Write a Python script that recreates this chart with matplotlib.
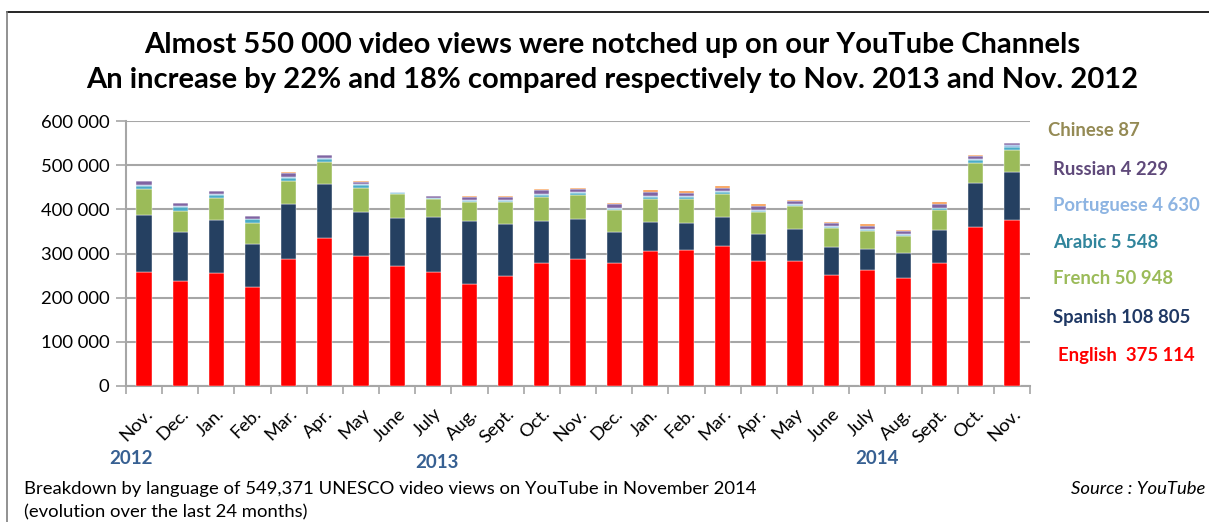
import matplotlib
matplotlib.use("Agg")
import matplotlib.pyplot as plt
import numpy as np
from matplotlib.lines import Line2D

plt.rcParams["font.family"] = ["Lato", "DejaVu Sans"]

months = ["Nov.", "Dec.", "Jan.", "Feb.", "Mar.", "Apr.", "May", "June", "July", "Aug.",
          "Sept.", "Oct.", "Nov.", "Dec.", "Jan.", "Feb.", "Mar.", "Apr.", "May", "June",
          "July", "Aug.", "Sept.", "Oct.", "Nov."]
years = ["2012", "2013", "2014"]

english = [259000, 237000, 256000, 225000, 288000, 336000, 295000, 271000, 258000, 232000,
           250000, 278000, 287000, 278000, 305000, 309000, 317000, 282000, 282000, 252000,
           262000, 244000, 278000, 361000, 375114]
spanish = [129000, 111000, 120000, 96000, 123000, 122000, 99000, 110000, 124000, 141000,
           117000, 96000, 91000, 71000, 67000, 61000, 65000, 63000, 74000, 62000,
           49000, 57000, 76000, 99000, 108805]
french = [57000, 49000, 49000, 48000, 53000, 50000, 55000, 53000, 42000, 43000,
          49000, 54000, 55000, 49000, 52000, 53000, 52000, 48000, 51000, 44000,
          40000, 39000, 44000, 46000, 50948]
arabic = [8000, 8000, 8000, 8000, 8000, 6000, 6000, 4000, 1000, 4000,
          4000, 4000, 4000, 3000, 5000, 5000, 5000, 4000, 3000, 3000,
          3000, 3000, 4000, 5000, 5548]
portuguese = [2000, 2000, 2000, 2000, 2000, 2000, 2000, 2000, 1000, 1000,
              2000, 2000, 3000, 2000, 2000, 2000, 2000, 2000, 2000, 2000,
              2000, 2000, 2000, 3000, 4630]
russian = [9000, 7000, 7000, 6000, 9000, 7000, 6000, 0, 5000, 7000,
           7000, 9000, 7000, 8000, 9000, 8000, 8000, 9000, 7000, 6000,
           6000, 5000, 8000, 6000, 4229]
chinese = [500, 500, 500, 500, 500, 500, 500, 0, 0, 2000,
           2000, 2000, 2000, 3000, 3000, 3000, 4000, 5000, 3000, 3000,
           5000, 4000, 5000, 4000, 87]

series = [
    ("English", english, "#FF0000", "#FF0000", "English  375 114"),
    ("Spanish", spanish, "#254061", "#1F3864", "Spanish 108 805"),
    ("French", french, "#9BBB59", "#9BBB59", "French 50 948"),
    ("Arabic", arabic, "#4BACC6", "#31859C", "Arabic 5 548"),
    ("Portuguese", portuguese, "#8DB4E2", "#8DB4E2", "Portuguese 4 630"),
    ("Russian", russian, "#8064A2", "#5F497A", "Russian 4 229"),
    ("Chinese", chinese, "#F79646", "#948A54", "Chinese 87"),
]
legend_y = {"English": 355, "Spanish": 317, "French": 279, "Arabic": 242,
            "Portuguese": 206, "Russian": 169, "Chinese": 130}
legend_x = {"English": 1058, "Chinese": 1048}

FS = 13.3
W, H = 1209, 522
fig = plt.figure(figsize=(W / 100, H / 100), dpi=100)

# outer frame (top and left edges visible)
fig.add_artist(Line2D([7 / W, 1], [1 - 12 / H, 1 - 12 / H], color="black", lw=1.2))
fig.add_artist(Line2D([7 / W, 7 / W], [0, 1 - 12 / H], color="#7F7F7F", lw=1.2))

ax = fig.add_axes([126 / W, 1 - 386 / H, 904 / W, 265 / H])
x = np.arange(len(months))
bottom = np.zeros(len(months))
for name, vals, color, _, _ in series:
    vals = np.array(vals, dtype=float)
    ax.bar(x, vals, width=0.42, bottom=bottom, color=color,
           edgecolor="#FFFFFF", linewidth=0.3, zorder=3)
    bottom += vals

ax.set_xlim(-0.5, len(months) - 0.5)
ax.set_ylim(0, 600000)
yt = np.arange(0, 600001, 100000)
ax.set_yticks(yt)
ax.set_yticklabels(["0" if v == 0 else f"{v // 1000} 000" for v in yt], fontsize=FS)
ax.yaxis.grid(True, color="#A6A6A6", lw=1.5, zorder=0)
ax.set_axisbelow(True)

ax.set_xticks(x)
ax.set_xticklabels(months, rotation=45, ha="right", rotation_mode="anchor", fontsize=FS)
ax.set_xticks(np.arange(-0.5, len(months)), minor=True)
ax.tick_params(axis="x", which="major", length=0, pad=14)
ax.tick_params(axis="x", which="minor", length=6, color="#A6A6A6", width=1.2)
ax.tick_params(axis="y", length=7, color="#A6A6A6", width=1.2, pad=5)
for s in ["top", "right"]:
    ax.spines[s].set_visible(False)
for s in ["left", "bottom"]:
    ax.spines[s].set_color("#A6A6A6")
    ax.spines[s].set_linewidth(1.5)

fig.text(612 / W, 1 - 45 / H, "Almost 550 000 video views were notched up on our YouTube Channels",
         ha="center", va="center", fontsize=21, fontweight="bold")
fig.text(612 / W, 1 - 80 / H,
         "An increase by 22% and 18% compared respectively to Nov. 2013 and Nov. 2012",
         ha="center", va="center", fontsize=21, fontweight="bold")

for name, _, _, tcolor, label in series:
    fig.text(legend_x.get(name, 1053) / W, 1 - legend_y[name] / H, label, ha="left",
             va="center", fontsize=FS, fontweight="bold", color=tcolor)

for yr, (xp, yp) in zip(years, [(131, 458), (437, 463), (877, 458)]):
    fig.text(xp / W, 1 - yp / H, yr, ha="center", va="center", fontsize=13.5,
             fontweight="bold", color="#376092")

fig.text(24 / W, 1 - 489 / H,
         "Breakdown by language of 549,371 UNESCO video views on YouTube in November 2014",
         ha="left", va="center", fontsize=FS)
fig.text(24 / W, 1 - 512 / H, "(evolution over the last 24 months)",
         ha="left", va="center", fontsize=FS)
fig.text(1205 / W, 1 - 489 / H, "Source : YouTube", ha="right", va="center",
         fontsize=FS, style="italic")

fig.savefig("out.png", dpi=100)
